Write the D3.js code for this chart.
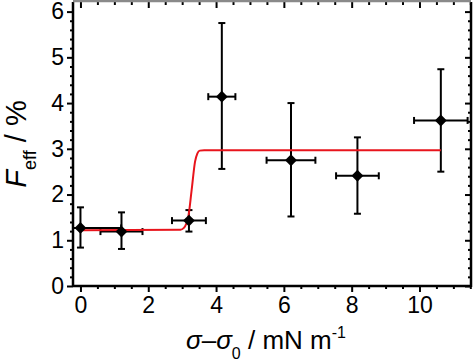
<!DOCTYPE html>
<html>
<head>
<meta charset="utf-8">
<script src="https://cdn.jsdelivr.net/npm/d3@7"></script>
<style>
  html, body { margin: 0; padding: 0; background: #fff; }
  svg { display: block; font-family: "Liberation Sans", Arial, sans-serif; }
</style>
</head>
<body>
<div id="chart"></div>
<script>
// measured points: x, y, x error, y error (low / high)
const xVals = [0, 1.21, 3.2, 4.17, 6.21, 8.17, 10.63];
const yVals = [1.27, 1.19, 1.43, 4.14, 2.75, 2.41, 3.62];
const xErr = [1.2, 0.62, 0.5, 0.4, 0.72, 0.63, 0.79];
const yLow = [0.84, 0.81, 1.19, 2.56, 1.52, 1.58, 2.5];
const yHigh = [1.72, 1.61, 1.66, 5.75, 4.0, 3.25, 4.74];

// red fit curve
const fitX = [0, 2.95, 3.05, 3.12, 3.18, 3.28, 3.38, 3.45, 3.52, 3.65, 10.63];
const fitY = [1.22, 1.23, 1.27, 1.36, 1.5, 2.1, 2.72, 2.9, 2.96, 2.97, 2.97];

const xTicks = [0, 2, 4, 6, 8, 10];
const yTicks = [0, 1, 2, 3, 4, 5, 6];

const W = 474, H = 363;
const pLeft = 73, pRight = 471, pTop = 2, pBottom = 286;

const svg = d3.select('#chart').append('svg')
  .attr('width', W)
  .attr('height', H);

const x = d3.scaleLinear().domain([-0.22, 11.52]).range([pLeft, pRight]);
const y = d3.scaleLinear().domain([0, 6.21]).range([pBottom, pTop]);

const xMinor = d3.range(0, 11.51, 0.5).filter(v => !xTicks.includes(v));
const yMinor = d3.range(0, 6.2, 0.2).map(v => +v.toFixed(1)).filter(v => !yTicks.includes(v));

svg.append('clipPath').attr('id', 'clip')
  .append('rect')
  .attr('x', pLeft).attr('y', pTop)
  .attr('width', pRight - pLeft).attr('height', pBottom - pTop);

// --- axes ---
const tickStyle = g => {
  g.select('.domain').remove();
  g.selectAll('.tick line').attr('stroke', '#000').attr('stroke-width', 2);
  g.selectAll('.tick text').attr('fill', '#000').style('font-size', '23px')
    .style('font-family', '"Liberation Sans", Arial, sans-serif');
};

svg.append('g')
  .attr('transform', `translate(0,${pBottom})`)
  .call(d3.axisBottom(x).tickValues(xTicks).tickSize(6).tickPadding(5).tickFormat(d3.format('d')))
  .call(tickStyle);

svg.append('g')
  .attr('transform', `translate(0,${pBottom})`)
  .call(d3.axisBottom(x).tickValues(xMinor).tickSize(3).tickFormat(''))
  .call(tickStyle);

svg.append('g')
  .attr('transform', `translate(${pLeft},0)`)
  .call(d3.axisLeft(y).tickValues(yTicks).tickSize(6).tickPadding(3).tickFormat(d3.format('d')))
  .call(tickStyle);

svg.append('g')
  .attr('transform', `translate(${pLeft},0)`)
  .call(d3.axisLeft(y).tickValues(yMinor).tickSize(3).tickFormat(''))
  .call(tickStyle);

// mirrored ticks, pointing inward
svg.append('g')
  .attr('transform', `translate(0,${pTop})`)
  .call(d3.axisBottom(x).tickValues(xTicks).tickSize(6).tickFormat(''))
  .call(tickStyle);
svg.append('g')
  .attr('transform', `translate(0,${pTop})`)
  .call(d3.axisBottom(x).tickValues(xMinor).tickSize(3).tickFormat(''))
  .call(tickStyle);
svg.append('g')
  .attr('transform', `translate(${pRight},0)`)
  .call(d3.axisLeft(y).tickValues(yTicks).tickSize(6).tickFormat(''))
  .call(tickStyle);
svg.append('g')
  .attr('transform', `translate(${pRight},0)`)
  .call(d3.axisLeft(y).tickValues(yMinor).tickSize(3).tickFormat(''))
  .call(tickStyle);

// frame
svg.append('line').attr('x1', pLeft).attr('x2', pRight).attr('y1', pBottom).attr('y2', pBottom)
  .attr('stroke', '#000').attr('stroke-width', 2.5);
svg.append('line').attr('x1', pLeft).attr('x2', pLeft).attr('y1', pTop).attr('y2', pBottom + 1)
  .attr('stroke', '#000').attr('stroke-width', 2.5);
svg.append('line').attr('x1', pRight).attr('x2', pRight).attr('y1', pTop).attr('y2', pBottom + 1)
  .attr('stroke', '#000').attr('stroke-width', 2.5);
svg.append('line').attr('x1', pLeft).attr('x2', pRight).attr('y1', 1).attr('y2', 1)
  .attr('stroke', '#8a8a8a').attr('stroke-width', 2.5);

// --- error bars ---
const plot = svg.append('g').attr('clip-path', 'url(#clip)');
const cap = 3.5;

xVals.forEach((xv, i) => {
  const cx = x(xv), cy = y(yVals[i]);
  const g = plot.append('g').attr('stroke', '#000').attr('stroke-width', 2);
  // vertical
  g.append('line').attr('x1', cx).attr('x2', cx).attr('y1', y(yLow[i])).attr('y2', y(yHigh[i]));
  g.append('line').attr('x1', cx - cap).attr('x2', cx + cap).attr('y1', y(yLow[i])).attr('y2', y(yLow[i]));
  g.append('line').attr('x1', cx - cap).attr('x2', cx + cap).attr('y1', y(yHigh[i])).attr('y2', y(yHigh[i]));
  // horizontal
  const xl = x(xv - xErr[i]), xr = x(xv + xErr[i]);
  g.append('line').attr('x1', xl).attr('x2', xr).attr('y1', cy).attr('y2', cy);
  g.append('line').attr('x1', xl).attr('x2', xl).attr('y1', cy - cap).attr('y2', cy + cap);
  g.append('line').attr('x1', xr).attr('x2', xr).attr('y1', cy - cap).attr('y2', cy + cap);
});

// --- fit line ---
const fitData = fitX.map((v, i) => [v, fitY[i]]);
plot.append('path')
  .datum(fitData)
  .attr('fill', 'none')
  .attr('stroke', '#e8141c')
  .attr('stroke-width', 2)
  .attr('d', d3.line().x(d => x(d[0])).y(d => y(d[1])).curve(d3.curveMonotoneX));

// --- markers ---
plot.selectAll('path.pt')
  .data(xVals)
  .enter()
  .append('path')
  .attr('class', 'pt')
  .attr('d', d3.symbol().type(d3.symbolDiamond2).size(90))
  .attr('transform', (d, i) => `translate(${x(d)},${y(yVals[i])})`)
  .attr('fill', '#000');

// --- axis titles ---
const xt = svg.append('text')
  .attr('x', 266)
  .attr('y', 349)
  .attr('text-anchor', 'middle')
  .style('font-size', '26px')
  .attr('fill', '#000');
xt.append('tspan').style('font-style', 'italic').text('σ');
xt.append('tspan').text('–');
xt.append('tspan').style('font-style', 'italic').text('σ');
xt.append('tspan').attr('dy', 10).style('font-size', '16px').text('0');
xt.append('tspan').attr('dy', -10).text(' / mN m');
xt.append('tspan').attr('dy', -11).style('font-size', '16px').text('-1');

const yt = svg.append('text')
  .attr('transform', 'translate(26,144) rotate(-90)')
  .attr('text-anchor', 'middle')
  .style('font-size', '29px')
  .attr('fill', '#000');
yt.append('tspan').style('font-style', 'italic').text('F');
yt.append('tspan').attr('dy', 10).style('font-size', '18px').text('eff');
yt.append('tspan').attr('dy', -10).text(' / %');
</script>
</body>
</html>
